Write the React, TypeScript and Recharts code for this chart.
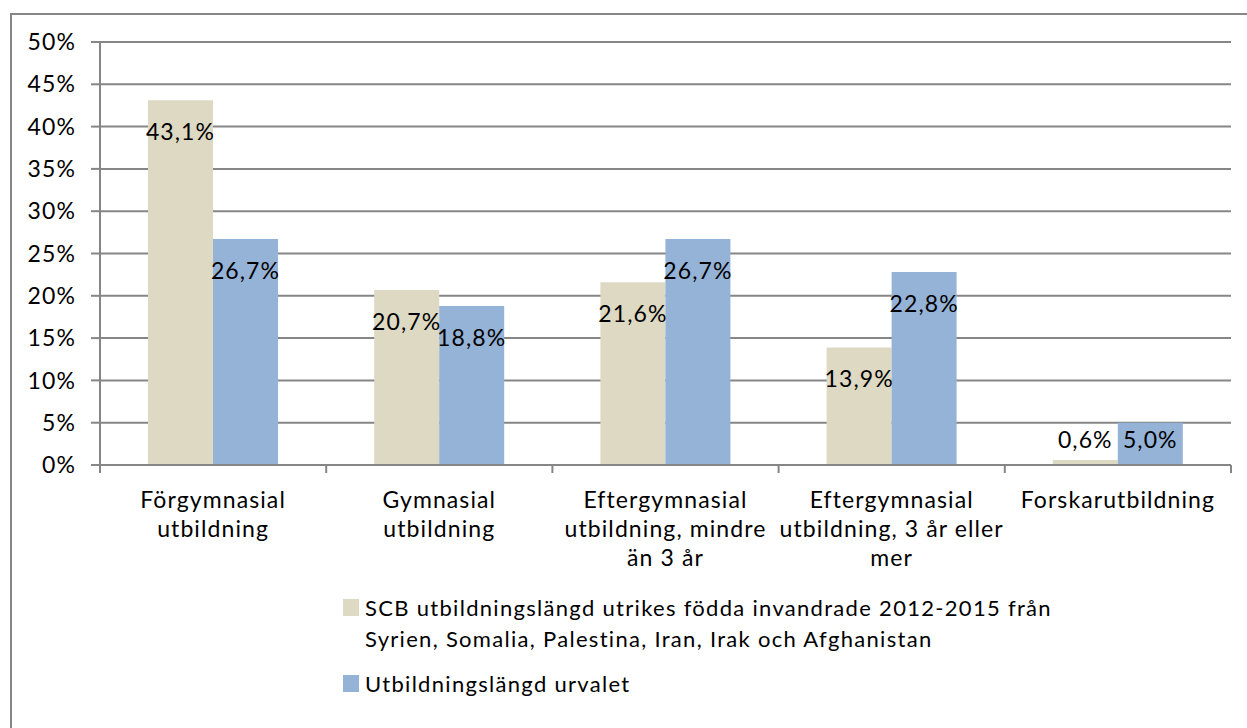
import React from 'react';
import { BarChart, Bar, XAxis, YAxis, CartesianGrid, LabelList } from 'recharts';

const categories = [
  'Förgymnasial utbildning',
  'Gymnasial utbildning',
  'Eftergymnasial utbildning, mindre än 3 år',
  'Eftergymnasial utbildning, 3 år eller mer',
  'Forskarutbildning',
];
const tickLabelLines = [
  ['Förgymnasial', 'utbildning'],
  ['Gymnasial', 'utbildning'],
  ['Eftergymnasial', 'utbildning, mindre', 'än 3 år'],
  ['Eftergymnasial', 'utbildning, 3 år eller', 'mer'],
  ['Forskarutbildning'],
];
const scbValues = [43.1, 20.7, 21.6, 13.9, 0.6];
const urvalValues = [26.7, 18.8, 26.7, 22.8, 5.0];
const yTicks = [0, 5, 10, 15, 20, 25, 30, 35, 40, 45, 50];
const seriesNames = [
  'SCB utbildningslängd utrikes födda invandrade 2012-2015 från Syrien, Somalia, Palestina, Iran, Irak och Afghanistan',
  'Utbildningslängd urvalet',
];
const legendLines = [
  ['SCB utbildningslängd utrikes födda invandrade 2012-2015 från', 'Syrien, Somalia, Palestina, Iran, Irak och Afghanistan'],
  ['Utbildningslängd urvalet'],
];
const seriesColors = ['#DDD9C3', '#95B3D7'];

const data = categories.map((c, i) => ({ category: c, scb: scbValues[i], urval: urvalValues[i] }));

const FONT = 'Lato, "Noto Sans", sans-serif';
const FS = 23;
const LS = 1.1;
const LEG_FS = 22;
const LEG_LS = 1.3;
const GRID = '#868686';

const fmt = (v: number) => `${Number(v).toFixed(1).replace('.', ',')}%`;

const CatTick = (props: any) => {
  const { x, y, payload, index } = props;
  const idx = payload?.index ?? index;
  const half = payload?.offset ?? 113.2;
  const lines = tickLabelLines[idx] || [];
  return (
    <g>
      <line x1={x - half} x2={x - half} y1={y} y2={y + 8} stroke={GRID} strokeWidth={2} />
      {idx === categories.length - 1 && (
        <line x1={x + half} x2={x + half} y1={y} y2={y + 8} stroke={GRID} strokeWidth={2} />
      )}
      {lines.map((l, i) => (
        <text key={i} x={x} y={y + 43 + i * 29} textAnchor="middle" fontSize={FS} fontFamily={FONT} letterSpacing={LS} fill="#000">
          {l}
        </text>
      ))}
    </g>
  );
};

const renderLabel = (props: any) => {
  const { x, y, width, height, value } = props;
  const cx = Number(x) + Number(width) / 2;
  const base = Number(y) + Number(height);
  const cy = Number(height) >= 62 ? Number(y) + 31 : base - 26;
  return (
    <text x={cx} y={cy} textAnchor="middle" dominantBaseline="central" fontSize={FS} fontFamily={FONT} letterSpacing={LS} fill="#000">
      {fmt(value)}
    </text>
  );
};

export default function App() {
  return (
    <div style={{ position: 'fixed', left: 0, top: 0, width: 1247, height: 728, overflow: 'hidden', background: '#fff' }}>
      <div style={{ position: 'absolute', left: 10, top: 13, width: 2000, height: 2000, borderLeft: `2px solid ${GRID}`, borderTop: `2px solid ${GRID}` }} />
      <div style={{ position: 'absolute', left: 0, top: 0 }}>
        <BarChart width={1247} height={728} data={data} margin={{ top: 42, right: 16, bottom: 163, left: 0 }} barGap={0} barSize={65}>
          <CartesianGrid vertical={false} stroke={GRID} strokeWidth={2} />
          <YAxis
            domain={[0, 50]}
            ticks={yTicks}
            interval={0}
            tickFormatter={(v: number) => `${v}%`}
            width={100}
            tickSize={9}
            tickMargin={15}
            axisLine={{ stroke: GRID, strokeWidth: 2 }}
            tickLine={{ stroke: GRID, strokeWidth: 2 }}
            tick={{ fill: '#000', fontSize: FS, fontFamily: FONT, letterSpacing: LS }}
          />
          <XAxis
            dataKey="category"
            interval={0}
            height={100}
            tickSize={0}
            tickMargin={0}
            tickLine={false}
            axisLine={{ stroke: GRID, strokeWidth: 2 }}
            tick={<CatTick />}
          />
          <Bar dataKey="scb" name={seriesNames[0]} fill={seriesColors[0]} isAnimationActive={false}>
            <LabelList dataKey="scb" content={renderLabel} />
          </Bar>
          <Bar dataKey="urval" name={seriesNames[1]} fill={seriesColors[1]} isAnimationActive={false}>
            <LabelList dataKey="urval" content={renderLabel} />
          </Bar>
        </BarChart>
      </div>
      <svg style={{ position: 'absolute', left: 0, top: 0 }} width={1247} height={728}>
        {legendLines.map((lines, si) => {
          const baseY = si === 0 ? 616 : 692;
          return (
            <g key={si}>
              <rect x={343} y={baseY - 17} width={16} height={17} fill={seriesColors[si]} />
              {lines.map((l, li) => (
                <text key={li} x={365} y={baseY + li * 31} fontSize={LEG_FS} fontFamily={FONT} letterSpacing={LEG_LS} fill="#000">
                  {l}
                </text>
              ))}
            </g>
          );
        })}
      </svg>
    </div>
  );
}
